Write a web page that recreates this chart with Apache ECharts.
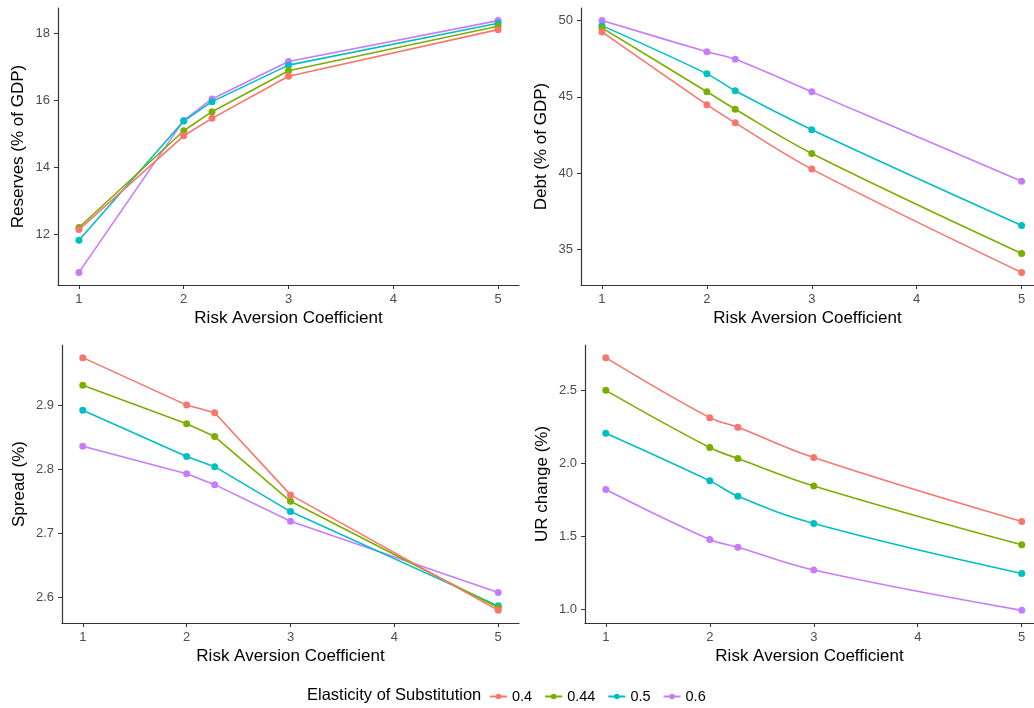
<!DOCTYPE html>
<html><head><meta charset="utf-8">
<script src="https://cdn.jsdelivr.net/npm/echarts@6/dist/echarts.min.js"></script>
<style>html,body{margin:0;padding:0;background:#fff}#c{width:1034px;height:708px}</style>
</head><body><div id="c"></div>
<script>
const riskAversion = [1, 2, 2.27, 3, 5];
const elasticities = ['0.4', '0.44', '0.5', '0.6'];
const xTicks = [1, 2, 3, 4, 5];

const reserves04 = [12.14, 14.94, 15.46, 16.72, 18.11];
const reserves044 = [12.20, 15.09, 15.66, 16.88, 18.21];
const reserves05 = [11.82, 15.38, 15.96, 17.05, 18.30];
const reserves06 = [10.86, 15.40, 16.04, 17.16, 18.38];

const debt04 = [49.26, 44.49, 43.30, 40.27, 33.50];
const debt044 = [49.52, 45.34, 44.19, 41.29, 34.74];
const debt05 = [49.67, 46.51, 45.40, 42.85, 36.58];
const debt06 = [50.00, 47.96, 47.46, 45.33, 39.47];

const spread04 = [2.974, 2.900, 2.888, 2.760, 2.580];
const spread044 = [2.931, 2.871, 2.851, 2.750, 2.584];
const spread05 = [2.892, 2.820, 2.804, 2.734, 2.587];
const spread06 = [2.836, 2.793, 2.776, 2.719, 2.608];

const ur04 = [2.724, 2.313, 2.247, 2.040, 1.602];
const ur044 = [2.500, 2.108, 2.033, 1.845, 1.442];
const ur05 = [2.206, 1.880, 1.775, 1.588, 1.246];
const ur06 = [1.821, 1.479, 1.426, 1.269, 0.993];

const reservesTicks = [12, 14, 16, 18];
const debtTicks = [35, 40, 45, 50];
const spreadTicks = [2.6, 2.7, 2.8, 2.9];
const urTicks = [1.0, 1.5, 2.0, 2.5];

const colors = ['#F8766D', '#7CAE00', '#00BFC4', '#C77CFF'];

const panels = [
  { name: 'Reserves (% of GDP)', data: [reserves04, reserves044, reserves05, reserves06], ticks: reservesTicks, dec: 0, smooth: false },
  { name: 'Debt (% of GDP)', data: [debt04, debt044, debt05, debt06], ticks: debtTicks, dec: 0, smooth: 0.35 },
  { name: 'Spread (%)', data: [spread04, spread044, spread05, spread06], ticks: spreadTicks, dec: 1, smooth: false },
  { name: 'UR change (%)', data: [ur04, ur044, ur05, ur06], ticks: urTicks, dec: 1, smooth: 0.4 }
];

// right-hand panels are cut off by the image edge just past x = 5.1
const grids = [
  { left: 58, top: 8, width: 461, height: 277, xmax: 5.2, yGap: 31 },
  { left: 581, top: 8, width: 453, height: 277, xmax: 5.118, yGap: 31 },
  { left: 62, top: 345, width: 457, height: 278, xmax: 5.2, yGap: 34 },
  { left: 585, top: 345, width: 449, height: 278, xmax: 5.118, yGap: 34 }
];

const font = 'Liberation Sans, Arial, sans-serif';
const xAxes = [], yAxes = [], series = [];
panels.forEach((p, i) => {
  const all = [].concat(...p.data);
  const lo = Math.min(...all), hi = Math.max(...all);
  const pad = (hi - lo) * 0.05;
  xAxes.push({
    type: 'value', gridIndex: i, min: 0.8, max: grids[i].xmax,
    name: 'Risk Aversion Coefficient', nameLocation: 'middle', nameGap: 25,
    nameTextStyle: { fontFamily: font, fontSize: 17, color: '#000' },
    splitLine: { show: false },
    axisLine: { show: true, lineStyle: { color: '#333', width: 1.2 } },
    axisTick: { show: true, length: 4, customValues: xTicks, lineStyle: { color: '#333' } },
    axisLabel: { customValues: xTicks, fontFamily: font, fontSize: 13, color: '#4D4D4D', margin: 8 }
  });
  yAxes.push({
    type: 'value', gridIndex: i, min: lo - pad, max: hi + pad,
    name: p.name, nameLocation: 'middle', nameGap: grids[i].yGap,
    nameTextStyle: { fontFamily: font, fontSize: 17, color: '#000' },
    splitLine: { show: false },
    axisLine: { show: true, lineStyle: { color: '#333', width: 1.2 } },
    axisTick: { show: true, length: 4, customValues: p.ticks, lineStyle: { color: '#333' } },
    axisLabel: { customValues: p.ticks, fontFamily: font, fontSize: 13, color: '#4D4D4D', margin: 8,
      formatter: v => v.toFixed(p.dec) }
  });
  p.data.forEach((vals, k) => {
    series.push({
      type: 'line', name: elasticities[k], xAxisIndex: i, yAxisIndex: i,
      data: riskAversion.map((x, j) => [x, vals[j]]),
      symbol: 'circle', symbolSize: 7, smooth: p.smooth,
      lineStyle: { color: colors[k], width: 1.6 },
      itemStyle: { color: colors[k] },
      emphasis: { disabled: true }, animation: false, z: 2 + (3 - k)
    });
  });
});

const chart = echarts.init(document.getElementById('c'), null, { renderer: 'canvas' });
chart.setOption({
  backgroundColor: '#fff',
  animation: false,
  title: { text: 'Elasticity of Substitution', left: 302, top: 682,
    textStyle: { fontFamily: font, fontSize: 16.5, fontWeight: 'normal', color: '#000' } },
  legend: { data: elasticities, left: 484, top: 684, itemWidth: 17, itemHeight: 7, itemGap: 12,
    textStyle: { fontFamily: font, fontSize: 14.5, color: '#000' } },
  grid: grids.map(g => ({ left: g.left, top: g.top, width: g.width, height: g.height })),
  xAxis: xAxes,
  yAxis: yAxes,
  series: series
});
</script></body></html>
